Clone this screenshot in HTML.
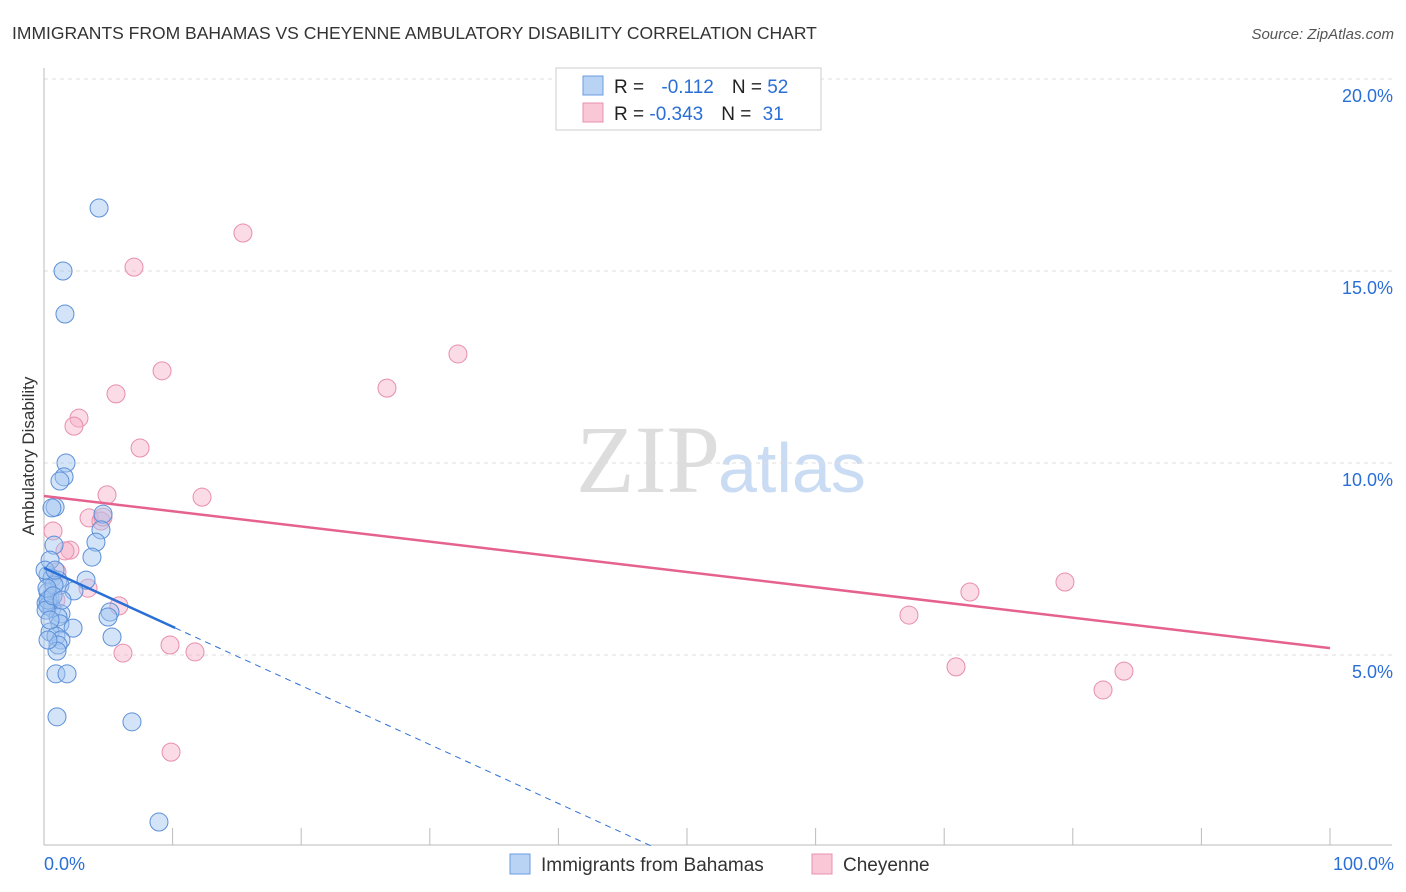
<!DOCTYPE html>
<html><head><meta charset="utf-8"><style>
body{margin:0;background:#fff;font-family:"Liberation Sans",sans-serif;}
svg{display:block}
</style></head><body>
<svg id="c" width="1406" height="892" xmlns="http://www.w3.org/2000/svg">
<text x="12" y="39" font-size="17.5" fill="#333">IMMIGRANTS FROM BAHAMAS VS CHEYENNE AMBULATORY DISABILITY CORRELATION CHART</text>
<text x="1394" y="39" font-size="15" fill="#555" font-style="italic" text-anchor="end">Source: ZipAtlas.com</text>
<text x="0" y="0" transform="translate(34,456) rotate(-90)" font-size="17" fill="#333" text-anchor="middle">Ambulatory Disability</text>
<text x="720" y="492" font-size="96" fill="#ddd" text-anchor="end" font-family="Liberation Serif,serif">ZIP</text>
<text x="718" y="492" font-size="70" fill="#c9dcf3">atlas</text>
<g id="grid"></g>
<g id="pts"></g>
<g id="lines"></g>
<g>
<rect x="556" y="68" width="265" height="62" fill="#fff" stroke="#ccc"/>
<rect x="583" y="76" width="20" height="19" fill="#b9d3f5" stroke="#6a9be0"/>
<rect x="583" y="103" width="20" height="19" fill="#f9c7d6" stroke="#e890ae"/>
<text x="614" y="93" font-size="19" fill="#222">R = <tspan fill="#2a6fd6" dx="12">-0.112</tspan><tspan fill="#222" dx="18">N = </tspan><tspan fill="#2a6fd6">52</tspan></text>
<text x="614" y="120" font-size="19" fill="#222">R = <tspan fill="#2a6fd6">-0.343</tspan><tspan fill="#222" dx="18">N = </tspan><tspan fill="#2a6fd6" dx="6">31</tspan></text>
</g>
<g>
<rect x="510" y="854" width="20" height="20" fill="#b9d3f5" stroke="#6a9be0"/>
<text x="541" y="871" font-size="19" fill="#333">Immigrants from Bahamas</text>
<rect x="812" y="854" width="20" height="20" fill="#f9c7d6" stroke="#e890ae"/>
<text x="843" y="871" font-size="19" fill="#333">Cheyenne</text>
</g>
<text x="44" y="870" font-size="18" fill="#2a6fd6">0.0%</text>
<text x="1394" y="870" font-size="18" fill="#2a6fd6" text-anchor="end">100.0%</text>
</svg>
<script>
const yTicks=[5,10,15,20];
const yTickLabels=["5.0%","10.0%","15.0%","20.0%"];
const xTicks=[0,10,20,30,40,50,60,70,80,90,100];
const blueX=[4.28,1.48,1.63,1.71,1.56,1.24,0.86,0.62,4.59,4.43,4.04,0.78,3.73,3.27,0.31,0.62,1.09,1.24,2.33,0.31,0.47,0.16,0.31,0.62,1.32,1.09,5.13,4.98,1.24,2.26,0.47,0.93,5.29,1.32,1.09,1.01,0.93,1.79,1.01,6.84,8.94,0.31,0.16,0.47,0.78,0.23,0.70,1.4,0.47,0.08,0.86,0.31];
const blueY=[16.64,15.0,13.88,10.0,9.64,9.53,8.85,8.83,8.67,8.26,7.94,7.86,7.55,6.95,7.08,7.0,6.95,6.82,6.67,6.64,6.48,6.35,6.28,6.22,6.07,5.99,6.12,5.99,5.81,5.70,5.60,5.49,5.47,5.39,5.26,5.10,4.51,4.51,3.39,3.26,0.65,6.43,6.17,5.91,6.82,6.74,6.54,6.43,7.47,7.21,7.21,5.39];
const pinkX=[15.47,7.0,9.18,5.6,32.19,26.67,2.72,2.33,7.47,4.9,12.29,0.7,3.5,4.43,4.59,2.02,1.63,1.01,0.93,3.42,5.83,6.14,9.8,11.74,9.88,67.26,72.0,79.39,70.92,83.98,82.35];
const pinkY=[15.99,15.1,12.4,11.8,12.84,11.95,11.17,10.96,10.39,9.17,9.11,8.23,8.57,8.49,8.59,7.73,7.71,7.16,6.43,6.74,6.28,5.05,5.26,5.08,2.47,6.04,6.64,6.9,4.69,4.58,4.09];
const blueTrend=[7.27,-0.1534];
const pinkTrend=[9.14,-0.0396];
const X=v=>44+v*12.86, Y=v=>847-v*38.4;
const NS="http://www.w3.org/2000/svg";
function mk(t,a,p){const e=document.createElementNS(NS,t);for(const k in a)e.setAttribute(k,a[k]);p.appendChild(e);return e;}
const g=document.getElementById('grid');
yTicks.forEach((t,i)=>{
 const l=mk('line',{x1:44,x2:1392,y1:Y(t),y2:Y(t),stroke:'#ddd','stroke-dasharray':'4,4'},g);
 
 
 const tx=mk('text',{x:1393,y:Y(t)+23,'font-size':18,fill:'#2a6fd6','text-anchor':'end'},g);
 tx.textContent=yTickLabels[i];
 
 
});
const ax=mk('line',{x1:44,x2:44,y1:68,y2:845,stroke:'#bbb'},g);


const bx=mk('line',{x1:44,x2:1392,y1:845,y2:845,stroke:'#bbb'},g);


xTicks.forEach(t=>{
 const l=mk('line',{x1:X(t),x2:X(t),y1:828,y2:845,stroke:'#bbb'},g);
 
 
});
const p=document.getElementById('pts');
pinkX.forEach((x,i)=>{
 const c=mk('circle',{cx:X(x),cy:Y(pinkY[i]),r:9,fill:'rgba(247,176,198,0.45)',stroke:'#e88eac','stroke-width':1},p);
 
 
});
blueX.forEach((x,i)=>{
 const c=mk('circle',{cx:X(x),cy:Y(blueY[i]),r:9,fill:'rgba(160,195,240,0.45)',stroke:'#5b8fd8','stroke-width':1},p);
 
 
});
const L=document.getElementById('lines');
const pl=mk('line',{x1:X(0),y1:Y(pinkTrend[0]),x2:X(100),y2:Y(pinkTrend[0]+pinkTrend[1]*100),stroke:'#e5628e','stroke-width':2.5},L);


const bEnd=10.2, bZero=-blueTrend[0]/blueTrend[1];
const bl=mk('line',{x1:X(0),y1:Y(blueTrend[0]),x2:X(bEnd),y2:Y(blueTrend[0]+blueTrend[1]*bEnd),stroke:'#2a6fd6','stroke-width':2.5},L);


const bd=mk('line',{x1:X(bEnd),y1:Y(blueTrend[0]+blueTrend[1]*bEnd),x2:X(bZero),y2:Y(0),stroke:'#2a6fd6','stroke-width':1,'stroke-dasharray':'6,5'},L);


</script>
</body></html>
